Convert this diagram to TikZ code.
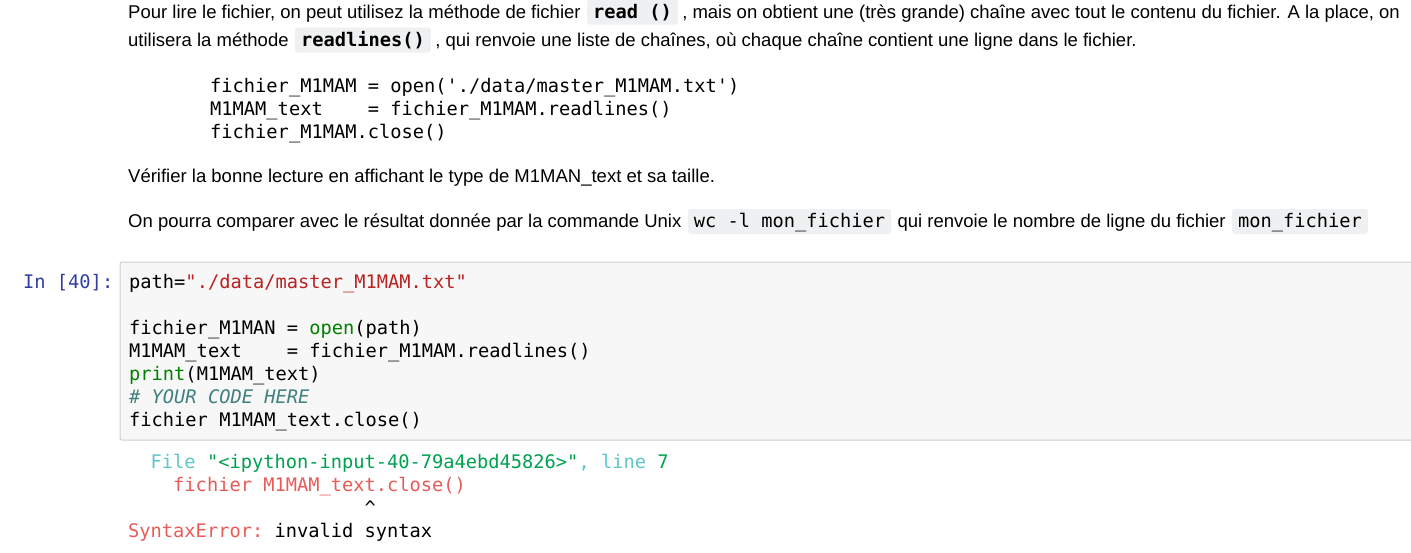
\documentclass[tikz,border=0pt]{standalone}
\usepackage{fontspec}
\setmainfont{Liberation Sans}
\setmonofont{DejaVu Sans Mono}
\definecolor{codebg}{HTML}{EFF0F1}
\definecolor{cellbg}{HTML}{F7F7F7}
\definecolor{cellborder}{HTML}{CFCFCF}
\definecolor{prompt}{HTML}{303F9F}
\definecolor{pystr}{HTML}{BA2121}
\definecolor{pybuiltin}{HTML}{008000}
\definecolor{pycomment}{HTML}{408080}
\definecolor{ansicyan}{HTML}{60C6C8}
\definecolor{ansigreen}{HTML}{00A250}
\definecolor{ansired}{HTML}{E75C58}
\tikzset{
  body/.style={anchor=base west, inner sep=0pt, font=\fontsize{18.5}{22}\selectfont},
  mono/.style={anchor=base west, inner sep=0pt, font=\fontsize{18.7}{23}\selectfont\ttfamily},
  icode/.style={anchor=base west, fill=codebg, rounded corners=3pt, inner xsep=6pt,
    inner ysep=3.5pt, text height=15pt, text depth=3pt,
    font=\fontsize{18.7}{23}\selectfont\ttfamily},
  cellbox/.style={draw=cellborder, fill=cellbg, line width=1pt, rounded corners=2pt},
}
\begin{document}
\begin{tikzpicture}[x=1pt,y=-1pt]
\useasboundingbox (0,0) rectangle (1411,552);
\fill[white] (0,0) rectangle (1411,552);

% paragraph 1
\node[body] (p1a) at (128,18) {Pour lire le fichier, on peut utilisez la méthode de fichier};
\node[icode] (p1b) at ([xshift=6]p1a.base east) {\bfseries read~()};
\node[body] (p1c) at ([xshift=4]p1b.base east) {, mais on obtient une (très grande) chaîne avec tout le contenu du fichier. A la place, on};
\node[body] (p2a) at (128,46) {utilisera la méthode};
\node[icode] (p2b) at ([xshift=6]p2a.base east) {\bfseries readlines()};
\node[body] (p2c) at ([xshift=4]p2b.base east) {, qui renvoie une liste de chaînes, où chaque chaîne contient une ligne dans le fichier.};

% markdown code block
\node[mono] (m1) at (210,92) {fichier\_M1MAM = open('./data/master\_M1MAM.txt')};
\node[mono] (m2) at (210,115) {M1MAM\_text~~~~= fichier\_M1MAM.readlines()};
\node[mono] (m3) at (210,138) {fichier\_M1MAM.close()};

% paragraphs
\node[body] (v1) at (128,182) {Vérifier la bonne lecture en affichant le type de M1MAN\_text et sa taille.};
\node[body] (o1) at (128,227.5) {On pourra comparer avec le résultat donnée par la commande Unix};
\node[icode] (o2) at ([xshift=6]o1.base east) {wc~-l~mon\_fichier};
\node[body] (o3) at ([xshift=6]o2.base east) {qui renvoie le nombre de ligne du fichier};
\node[icode] (o4) at ([xshift=6]o3.base east) {mon\_fichier};

% code cell
\draw[cellbox] (120,262) rectangle (1416,440);
\node[mono, text=prompt] (pr) at (23,288) {In~[40]:};
\node[mono] (c1) at (129,288) {path=\textcolor{pystr}{"./data/master\_M1MAM.txt"}};
\node[mono] (c3) at (129,334) {fichier\_M1MAN = \textcolor{pybuiltin}{open}(path)};
\node[mono] (c4) at (129,357) {M1MAM\_text~~~~= fichier\_M1MAM.readlines()};
\node[mono] (c5) at (129,380) {\textcolor{pybuiltin}{print}(M1MAM\_text)};
\node[mono] (c6) at (129,403) {\textcolor{pycomment}{\itshape \#~YOUR~CODE~HERE}};
\node[mono] (c7) at (129,426) {fichier M1MAM\_text.close()};

% output
\node[mono] (e1) at (128,468) {~~\textcolor{ansicyan}{File}~\textcolor{ansigreen}{"<ipython-input-40-79a4ebd45826>"}\textcolor{ansicyan}{,~line}~\textcolor{ansigreen}{7}};
\node[mono] (e2) at (128,491) {~~~~\textcolor{ansired}{fichier~M1MAM\_text.close()}};
\node[mono] (e3) at (128,514) {~~~~~~~~~~~~~~~~~~~~~\textasciicircum};
\node[mono] (e4) at (128,537) {\textcolor{ansired}{SyntaxError:}~invalid~syntax};
\end{tikzpicture}
\end{document}
